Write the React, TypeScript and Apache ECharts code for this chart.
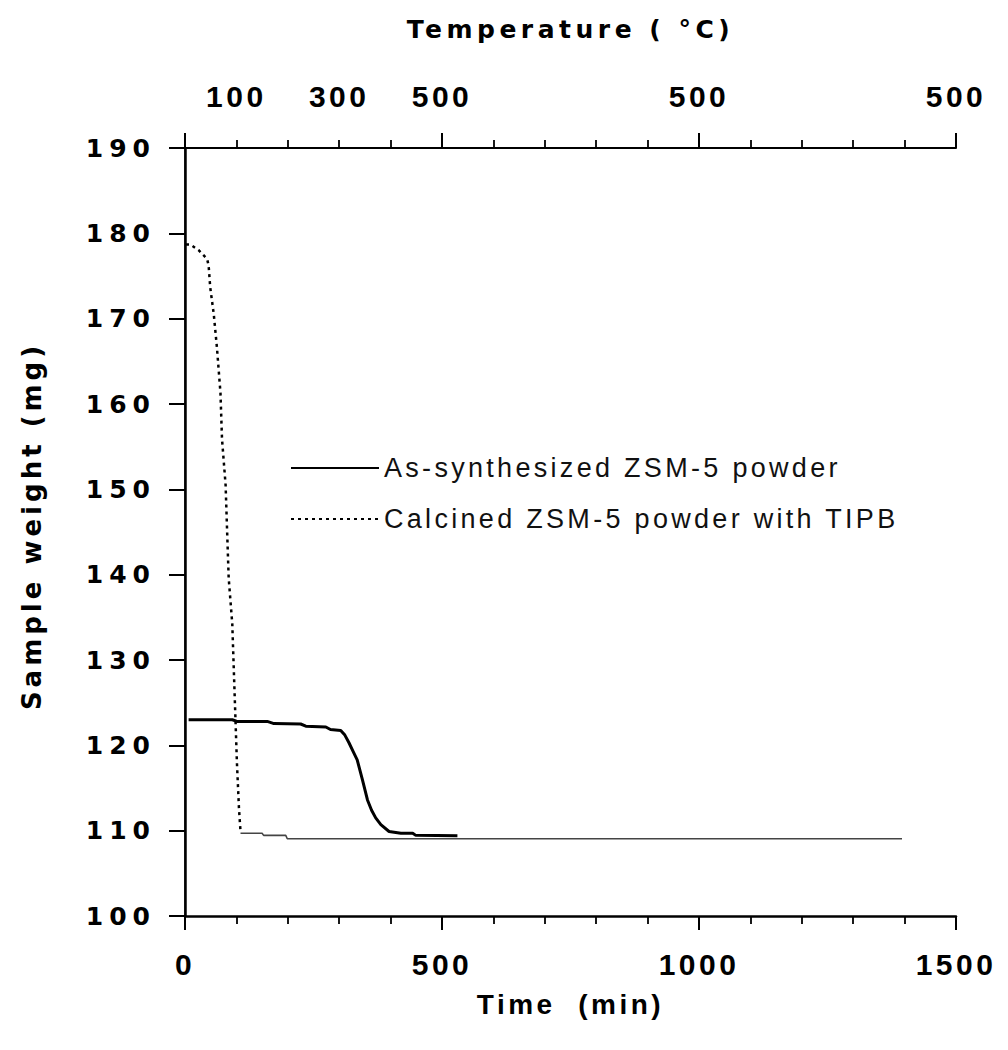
import React, { useEffect, useRef } from "react";
import * as echarts from "echarts";

// ---- data ----
const seriesNames = ["As-synthesized ZSM-5 powder", "Calcined ZSM-5 powder with TIPB"];

// As-synthesized ZSM-5 powder (solid)
const asTime = [7, 92, 101, 160, 173, 225, 235, 274, 283, 303, 311, 319, 327, 335, 345, 355, 363, 371, 381, 397, 420, 443, 449, 530];
const asWeight = [123.0, 123.0, 122.8, 122.8, 122.55, 122.5, 122.25, 122.15, 121.85, 121.75, 121.2, 120.3, 119.3, 118.3, 116.0, 113.6, 112.4, 111.5, 110.7, 109.9, 109.7, 109.7, 109.45, 109.4];

// Calcined ZSM-5 powder with TIPB (dashed drop)
const calTime = [2, 10, 27, 43, 46, 49, 56, 62, 69, 72, 79, 82, 85, 92, 95, 98, 101, 105, 108];
const calWeight = [178.7, 178.7, 178.0, 177.0, 176.2, 173.7, 170.5, 166.7, 161.3, 155.9, 150.5, 145.0, 139.6, 134.2, 128.8, 123.4, 118.0, 112.6, 109.9];

// Calcined sample, plateau after the drop (thin line)
const tailTime = [108, 150, 153, 196, 199, 1395];
const tailWeight = [109.7, 109.7, 109.45, 109.45, 109.05, 109.05];

// Axes
const timeMin = 0;
const timeMax = 1500;
const weightMin = 100;
const weightMax = 190;
const weightStep = 10;
const timeMajor = 500;
const topLabelTimes = [100, 300, 500, 1000, 1500];
const topLabelTexts = ["100", "300", "500", "500", "500"];

const css = `
.tga text[style*="zsY"] { letter-spacing: 6px; }
.tga text[style*="zsX"] { letter-spacing: 3.5px; }
.tga text[style*="zsT"] { letter-spacing: 4.5px; }
.tga text[style*="zsN"] { letter-spacing: 4px; }
.tga text[style*="zsL"] { letter-spacing: 3.3px; }
`;

const zip = (xs: number[], ys: number[]) => xs.map((x, i) => [x, ys[i]]);

export default function App() {
  const ref = useRef<HTMLDivElement>(null);
  useEffect(() => {
    const chart = echarts.init(ref.current!, null, { renderer: "svg" });
    const black = "#000";
    const xLabelStyle = {
      fontFamily: "'Liberation Sans', zsX",
      fontWeight: "bold" as const,
      fontSize: 30,
      color: black,
    };
    chart.setOption({
      animation: false,
      backgroundColor: "#fff",
      grid: { left: 185, right: 52, top: 148, bottom: 134 },
      legend: {
        data: seriesNames,
        orient: "vertical",
        left: 290,
        top: 454,
        padding: 0,
        itemWidth: 88,
        itemHeight: 16,
        itemGap: 23,
        selectedMode: false,
        itemStyle: { opacity: 0 },
        textStyle: { fontFamily: "'Liberation Sans', zsL", fontSize: 27, lineHeight: 28, color: "#111" },
      },
      xAxis: [
        {
          type: "value",
          position: "bottom",
          min: timeMin,
          max: timeMax,
          interval: timeMajor,
          axisLine: { show: true, lineStyle: { color: black, width: 2.5 } },
          axisTick: { show: true, inside: false, length: 14, lineStyle: { color: black, width: 2 } },
          minorTick: { show: true, splitNumber: 5, length: 8, lineStyle: { color: black, width: 1.8 } },
          splitLine: { show: false },
          minorSplitLine: { show: false },
          axisLabel: { margin: 33, formatter: (v: number) => String(v), ...xLabelStyle },
          name: "Time  (min)",
          nameLocation: "middle",
          nameGap: 74,
          nameTextStyle: { fontFamily: "'Liberation Sans', zsX", fontWeight: "bold", fontSize: 28, color: black },
        },
        {
          type: "value",
          position: "top",
          min: timeMin,
          max: timeMax,
          interval: timeMajor,
          axisLine: { show: true, lineStyle: { color: black, width: 2 } },
          axisTick: { show: true, inside: false, length: 15, lineStyle: { color: black, width: 2 } },
          minorTick: { show: true, splitNumber: 5, length: 8, lineStyle: { color: black, width: 1.8 } },
          splitLine: { show: false },
          minorSplitLine: { show: false },
          axisLabel: {
            margin: 37,
            customValues: topLabelTimes,
            formatter: (v: number) => {
              const i = topLabelTimes.indexOf(v);
              return i >= 0 ? topLabelTexts[i] : "";
            },
            ...xLabelStyle,
          },
          name: "Temperature ( °C)",
          nameLocation: "middle",
          nameGap: 106,
          nameTextStyle: { fontFamily: "'DejaVu Sans', zsT", fontWeight: "bold", fontSize: 25, color: black },
        },
      ],
      yAxis: [
        {
          type: "value",
          position: "left",
          min: weightMin,
          max: weightMax,
          interval: weightStep,
          axisLine: { show: true, lineStyle: { color: black, width: 2.5 } },
          axisTick: { show: true, inside: false, length: 16, lineStyle: { color: black, width: 2 } },
          splitLine: { show: false },
          axisLabel: {
            margin: 29,
            fontFamily: "'DejaVu Sans', zsY",
            fontWeight: "bold",
            fontSize: 25,
            color: black,
          },
          name: "Sample weight (mg)",
          nameLocation: "middle",
          nameRotate: 90,
          nameGap: 140,
          nameTextStyle: {
            fontFamily: "'DejaVu Sans', zsN",
            fontWeight: "bold",
            fontSize: 26,
            color: black,
            padding: [0, 0, 0, 12],
          },
        },
        {
          type: "value",
          position: "right",
          min: weightMin,
          max: weightMax,
          interval: weightStep,
          axisLine: { show: true, lineStyle: { color: black, width: 1.5 } },
          axisTick: { show: false },
          axisLabel: { show: false },
          splitLine: { show: false },
        },
      ],
      series: [
        {
          type: "line",
          name: seriesNames[0],
          xAxisIndex: 0,
          yAxisIndex: 0,
          data: zip(asTime, asWeight),
          symbol: "none",
          lineStyle: { color: black, width: 3 },
          itemStyle: { color: black },
        },
        {
          type: "line",
          name: seriesNames[1],
          xAxisIndex: 0,
          yAxisIndex: 0,
          data: zip(calTime, calWeight),
          symbol: "none",
          lineStyle: { color: black, width: 2.5, type: [3, 4] },
          itemStyle: { color: black },
        },
        {
          type: "line",
          name: "calcined-plateau",
          xAxisIndex: 0,
          yAxisIndex: 0,
          data: zip(tailTime, tailWeight),
          symbol: "none",
          lineStyle: { color: "#444", width: 1.6 },
          itemStyle: { color: "#444" },
        },
      ],
    });
    return () => chart.dispose();
  }, []);
  return (
    <div style={{ position: "fixed", left: 0, top: 0, width: 1008, height: 1050, background: "#fff" }}>
      <style>{css}</style>
      <div ref={ref} className="tga" style={{ width: 1008, height: 1050 }} />
    </div>
  );
}
